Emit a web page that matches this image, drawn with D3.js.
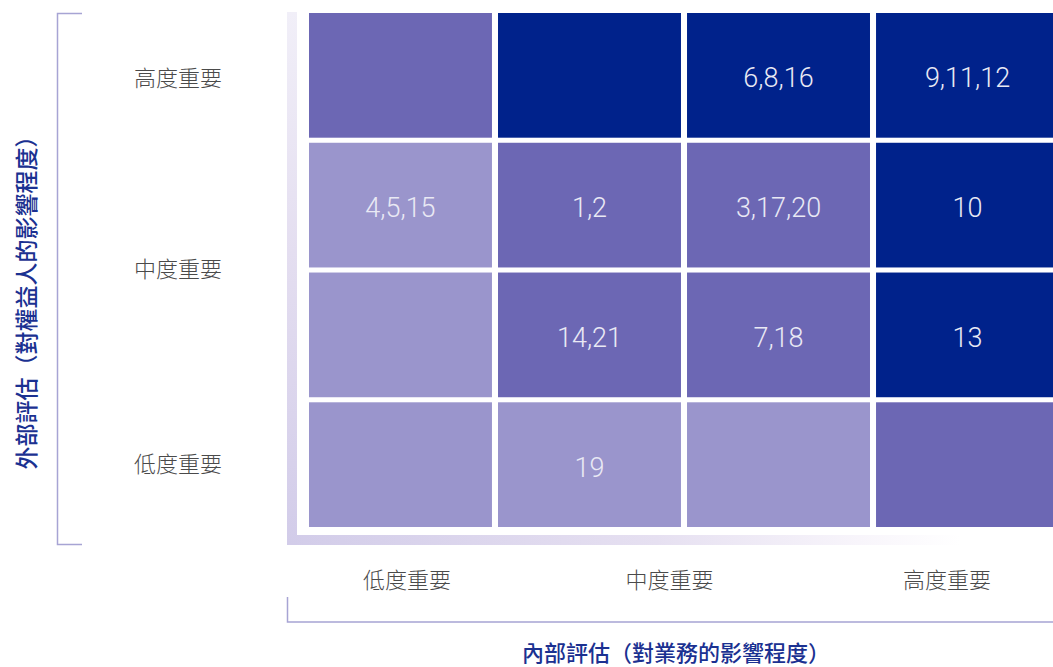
<!DOCTYPE html>
<html>
<head>
<meta charset="utf-8">
<script src="https://cdn.jsdelivr.net/npm/d3@7"></script>
<style>
html,body{margin:0;padding:0;background:#fff;}
svg{display:block;}
</style>
</head>
<body>
<svg id="chart" width="1053" height="667"></svg>
<script>
// ---- data ----
const columns = ["低度重要_a", "中度重要_a", "中度重要_b", "高度重要_a"]; // internal assessment bands
const rows = ["高度重要_r", "中度重要_r1", "中度重要_r2", "低度重要_r"]; // external assessment bands (top→bottom)
// priority level per cell (1 = low, 2 = medium, 3 = high), row by row
const levels = [
  [2, 3, 3, 3],
  [1, 2, 2, 3],
  [1, 2, 2, 3],
  [1, 1, 1, 2]
];
// topic numbers per cell
const cellLabels = [
  ["", "", "6,8,16", "9,11,12"],
  ["4,5,15", "1,2", "3,17,20", "10"],
  ["", "14,21", "7,18", "13"],
  ["", "19", "", ""]
];
const xTickLabels = ["低度重要", "中度重要", "高度重要"];
const xTickValues = [0.523, 1.923, 3.403];   // in column units
const yTickLabels = ["高度重要", "中度重要", "低度重要"];
const yTickValues = [0.49, 1.98, 3.495];  // in row units (from top)
const xTitle = "內部評估（對業務的影響程度）";
const yTitle = "外部評估（對權益人的影響程度）";
const levelColors = {1: "#9a95cc", 2: "#6c67b4", 3: "#00228b"};

// ---- layout ----
const svg = d3.select("#chart");
const x = d3.scaleBand().domain(d3.range(columns.length)).range([309, 1059]).paddingInner(0.032).paddingOuter(0);
const y = d3.scaleBand().domain(d3.range(rows.length)).range([13, 527]).paddingInner(0.039).paddingOuter(0);
const xl = d3.scaleLinear().domain([0, columns.length]).range([309, 1059]);
const yl = d3.scaleLinear().domain([0, rows.length]).range([13, 527]);
const color = d3.scaleOrdinal().domain([1,2,3]).range([levelColors[1], levelColors[2], levelColors[3]]);

const defs = svg.append("defs");
const gv = defs.append("linearGradient").attr("id", "gv").attr("x1", 0).attr("y1", 1).attr("x2", 0).attr("y2", 0);
gv.append("stop").attr("offset", "0%").attr("stop-color", "#d2cce9");
gv.append("stop").attr("offset", "55%").attr("stop-color", "#e4def0");
gv.append("stop").attr("offset", "100%").attr("stop-color", "#f1eff8");
const gh = defs.append("linearGradient").attr("id", "gh").attr("gradientUnits", "userSpaceOnUse")
  .attr("x1", 287).attr("y1", 0).attr("x2", 960).attr("y2", 0);
gh.append("stop").attr("offset", "0%").attr("stop-color", "#d2cce9");
gh.append("stop").attr("offset", "55%").attr("stop-color", "#e6e0f1");
gh.append("stop").attr("offset", "85%").attr("stop-color", "#f8f5fb");
gh.append("stop").attr("offset", "100%").attr("stop-color", "#ffffff");

// L-shaped gradient frame
svg.append("rect").attr("x", 287).attr("y", 12).attr("width", 10).attr("height", 533).attr("fill", "url(#gv)");
svg.append("rect").attr("x", 297).attr("y", 535).attr("width", 756).attr("height", 10).attr("fill", "url(#gh)");

// cells
const cells = [];
levels.forEach((r, i) => r.forEach((v, j) => cells.push({row: i, col: j, level: v, label: cellLabels[i][j]})));

const g = svg.append("g");
g.selectAll("rect.cell").data(cells).join("rect")
  .attr("class", "cell")
  .attr("x", d => x(d.col)).attr("y", d => y(d.row))
  .attr("width", x.bandwidth()).attr("height", y.bandwidth())
  .attr("fill", d => color(d.level));

g.selectAll("text.cl").data(cells.filter(d => d.label)).join("text")
  .attr("class", "cl")
  .attr("x", d => x(d.col) + x.bandwidth() / 2)
  .attr("y", d => y(d.row) + y.bandwidth() / 2 + 3)
  .attr("text-anchor", "middle").attr("dominant-baseline", "central")
  .attr("fill", "#e9e9f4")
  .style("font-family", "Roboto, 'Open Sans', sans-serif")
  .style("font-weight", 300).style("font-size", "27px")
  .text(d => d.label);

// tick labels
const tickFont = "'Noto Sans CJK TC', 'Noto Sans CJK SC', sans-serif";
svg.selectAll("text.xt").data(xTickLabels).join("text")
  .attr("class", "xt")
  .attr("x", (d, i) => xl(xTickValues[i])).attr("y", 578)
  .attr("text-anchor", "middle").attr("dominant-baseline", "central")
  .attr("fill", "#4a4a4a").style("font-family", tickFont).style("font-weight", 300).style("font-size", "22px")
  .text(d => d);
svg.selectAll("text.yt").data(yTickLabels).join("text")
  .attr("class", "yt")
  .attr("x", 178).attr("y", (d, i) => yl(yTickValues[i]))
  .attr("text-anchor", "middle").attr("dominant-baseline", "central")
  .attr("fill", "#4a4a4a").style("font-family", tickFont).style("font-weight", 300).style("font-size", "22px")
  .text(d => d);

// brackets
const bracketColor = "#a7a4d4";
svg.append("path").attr("d", "M82,13.5H57.5V544.5H82").attr("fill", "none").attr("stroke", bracketColor).attr("stroke-width", 1.5);
svg.append("path").attr("d", "M287.5,597V622H1053").attr("fill", "none").attr("stroke", bracketColor).attr("stroke-width", 1.5);

// titles
svg.append("text").attr("x", 676).attr("y", 651)
  .attr("text-anchor", "middle").attr("dominant-baseline", "central")
  .attr("fill", "#1b3191").style("font-family", tickFont).style("font-weight", 500).style("font-size", "22px")
  .text(xTitle);
svg.append("text").attr("transform", "translate(25,297) rotate(-90)")
  .attr("text-anchor", "middle").attr("dominant-baseline", "central")
  .attr("fill", "#1b3191").style("font-family", tickFont).style("font-weight", 500).style("font-size", "23px")
  .text(yTitle);
</script>
</body>
</html>
